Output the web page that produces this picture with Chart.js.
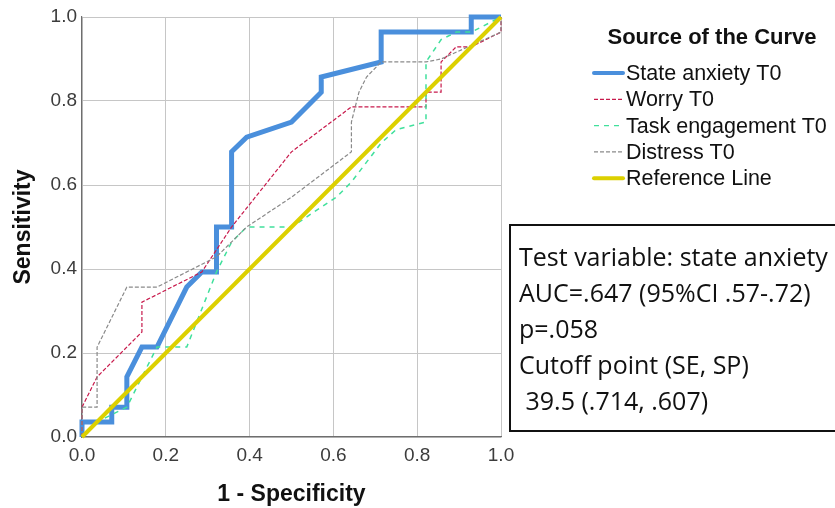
<!DOCTYPE html>
<html>
<head>
<meta charset="utf-8">
<script src="https://cdn.jsdelivr.net/npm/chart.js@4/dist/chart.umd.min.js"></script>
<style>
  html, body { margin: 0; padding: 0; background: #fff; }
  #wrap { position: relative; width: 835px; height: 508px; overflow: hidden; }
  #stats {
    position: absolute; left: 509px; top: 224px; width: 340px; height: 192px;
    border: 2px solid #111; box-sizing: content-box;
    font-family: "Open Sans", "Noto Sans", sans-serif; font-size: 25px; line-height: 36px;
    color: #111; padding: 12px 0 0 8px; white-space: pre;
  }
</style>
</head>
<body>
<div id="wrap">
  <canvas id="roc" width="835" height="508"></canvas>
  <div id="stats"></div>
</div>
<script>
// ── Data (1 - specificity, sensitivity) ──
const ticks = [0, 0.2, 0.4, 0.6, 0.8, 1.0];

const stateFpr = [0, 0, 0.071, 0.071, 0.107, 0.107, 0.143, 0.179, 0.25, 0.286, 0.321, 0.321, 0.357, 0.357, 0.393, 0.5, 0.571, 0.571, 0.714, 0.714, 0.929, 0.929, 1];
const stateTpr = [0, 0.036, 0.036, 0.071, 0.071, 0.143, 0.214, 0.214, 0.357, 0.393, 0.393, 0.5, 0.5, 0.679, 0.714, 0.75, 0.821, 0.857, 0.893, 0.964, 0.964, 1, 1];

const worryFpr = [0, 0, 0.036, 0.143, 0.143, 0.286, 0.357, 0.5, 0.643, 0.821, 0.821, 0.857, 0.857, 0.893, 0.929, 1, 1];
const worryTpr = [0, 0.071, 0.143, 0.25, 0.321, 0.393, 0.5, 0.679, 0.786, 0.786, 0.821, 0.821, 0.893, 0.929, 0.929, 0.964, 1];

const taskFpr = [0, 0.036, 0.107, 0.143, 0.179, 0.25, 0.321, 0.357, 0.393, 0.5, 0.607, 0.643, 0.714, 0.75, 0.821, 0.821, 0.857, 0.893, 0.929, 1];
const taskTpr = [0, 0.036, 0.071, 0.143, 0.214, 0.214, 0.393, 0.464, 0.5, 0.5, 0.571, 0.607, 0.7, 0.732, 0.75, 0.893, 0.946, 0.964, 0.964, 1];

const distressFpr = [0, 0, 0.036, 0.036, 0.107, 0.179, 0.321, 0.393, 0.5, 0.643, 0.643, 0.661, 0.679, 0.714, 0.821, 0.857, 1, 1];
const distressTpr = [0, 0.071, 0.071, 0.214, 0.357, 0.357, 0.429, 0.5, 0.571, 0.679, 0.75, 0.821, 0.857, 0.893, 0.893, 0.9, 0.964, 1];

const refFpr = [0, 1];
const refTpr = [0, 1];

const legendTitle = 'Source of the Curve';
const seriesNames = ['State anxiety T0', 'Worry T0', 'Task engagement T0', 'Distress T0', 'Reference Line'];
const statsLines = ['Test variable: state anxiety', 'AUC=.647 (95%CI .57-.72)', 'p=.058', 'Cutoff point (SE, SP)', ' 39.5 (.714, .607)'];

// ── Helpers ──
const $ = id => document.getElementById(id);
const pts = (xs, ys) => xs.map((x, i) => ({ x, y: ys[i] }));
const SANS = '"Liberation Sans", Arial, sans-serif';

$('stats').textContent = statsLines.join('\n');

const styles = [
  { borderColor: '#4a8fdc', borderWidth: 5, borderDash: [], order: 4 },
  { borderColor: '#c81a4c', borderWidth: 1.2, borderDash: [4, 2], order: 3 },
  { borderColor: '#40e09c', borderWidth: 1.5, borderDash: [5, 5], order: 2 },
  { borderColor: '#8a8a8a', borderWidth: 1.2, borderDash: [4, 2], order: 1 },
  { borderColor: '#dcd000', borderWidth: 4, borderDash: [], order: 0 },
];
const series = [
  pts(stateFpr, stateTpr), pts(worryFpr, worryTpr), pts(taskFpr, taskTpr),
  pts(distressFpr, distressTpr), pts(refFpr, refTpr)
];

// ── Legend drawn on the right ──
const sideLegend = {
  id: 'sideLegend',
  afterDraw(chart) {
    const ctx = chart.ctx;
    ctx.save();
    ctx.fillStyle = '#111';
    ctx.font = 'bold 22px ' + SANS;
    ctx.textAlign = 'center';
    ctx.textBaseline = 'middle';
    ctx.fillText(legendTitle, 712, 38);
    ctx.font = '21.5px ' + SANS;
    ctx.textAlign = 'left';
    chart.data.datasets.forEach((ds, i) => {
      const y = 73 + i * 26.3;
      ctx.strokeStyle = ds.borderColor;
      ctx.lineWidth = ds.borderWidth > 2 ? 4 : 1.2;
      ctx.setLineDash(ds.borderDash);
      ctx.lineCap = ds.borderWidth > 2 ? 'round' : 'butt';
      ctx.beginPath();
      ctx.moveTo(594, y); ctx.lineTo(623, y);
      ctx.stroke();
      ctx.setLineDash([]);
      ctx.fillText(ds.label, 626, y + 1);
    });
    ctx.restore();
  }
};

new Chart($('roc').getContext('2d'), {
  type: 'scatter',
  data: {
    datasets: series.map((data, i) => ({
      label: seriesNames[i],
      data,
      showLine: true,
      pointRadius: 0,
      fill: false,
      tension: 0,
      clip: 6,
      ...styles[i]
    }))
  },
  options: {
    responsive: false,
    animation: false,
    layout: { padding: { left: 0, top: 17, right: 334, bottom: 0 } },
    plugins: { legend: { display: false }, tooltip: { enabled: false } },
    scales: {
      x: {
        type: 'linear', min: 0, max: 1,
        afterBuildTicks: s => { s.ticks = ticks.map(v => ({ value: v })); },
        afterFit: s => { s.height = 71; },
        ticks: { color: '#3c3c3c', font: { family: SANS, size: 19 }, padding: 7, callback: v => v.toFixed(1) },
        grid: { color: '#c6c6c6', drawTicks: false },
        border: { color: '#6e6e6e', width: 1.2 },
        title: { display: true, text: '1 - Specificity', color: '#111', font: { family: SANS, size: 23, weight: 'bold' }, padding: { top: 0, bottom: 0 } }
      },
      y: {
        type: 'linear', min: 0, max: 1,
        afterBuildTicks: s => { s.ticks = ticks.map(v => ({ value: v })); },
        afterFit: s => { s.width = 82; },
        ticks: { color: '#3c3c3c', font: { family: SANS, size: 19 }, padding: 5, callback: v => v.toFixed(1) },
        grid: { color: '#c6c6c6', drawTicks: false },
        border: { color: '#6e6e6e', width: 1.2 },
        title: { display: true, text: 'Sensitivity', color: '#111', font: { family: SANS, size: 23, weight: 'bold' }, padding: { top: 10, bottom: 0 } }
      }
    }
  },
  plugins: [sideLegend]
});
</script>
</body>
</html>
